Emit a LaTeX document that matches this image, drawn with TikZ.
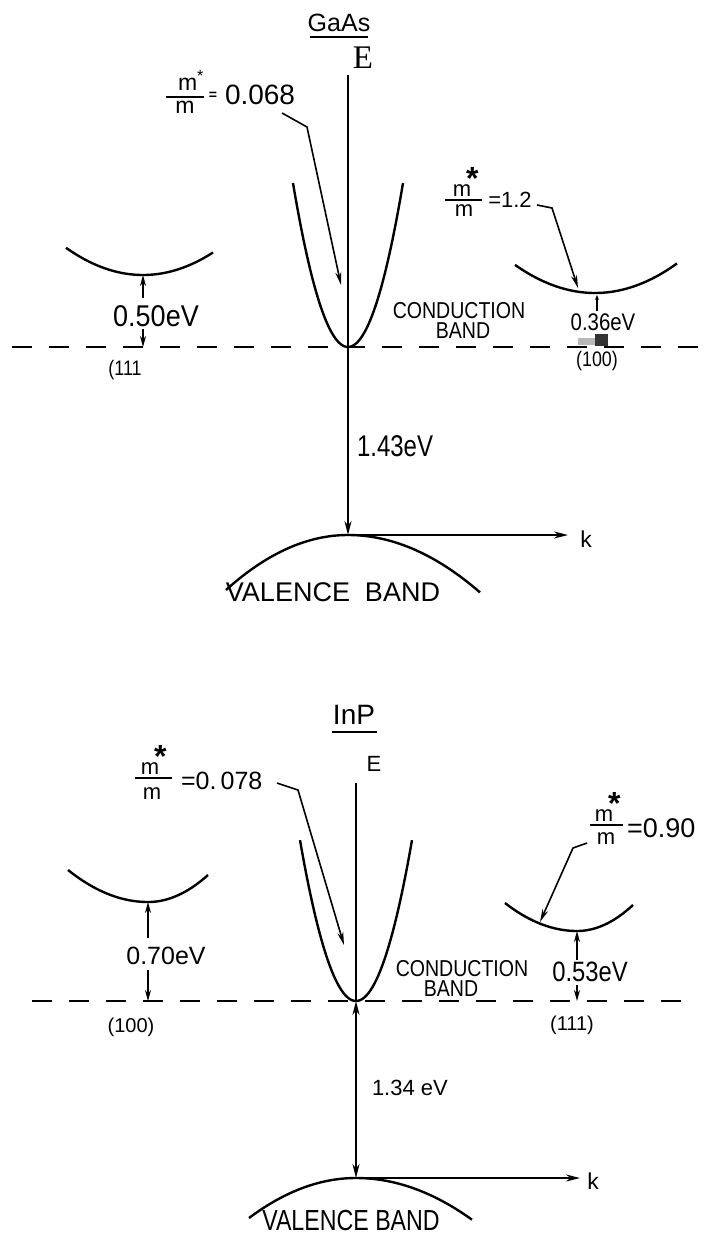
\documentclass[tikz,border=0pt]{standalone}
\usepackage{fontspec}
\setmainfont{Liberation Sans}
\newfontfamily\sA[FakeStretch=0.9]{Liberation Sans}
\newfontfamily\sB[FakeStretch=0.85]{Liberation Sans}
\newfontfamily\sC[FakeStretch=0.8]{Liberation Sans}
\newfontfamily\serE{Liberation Serif}
\usetikzlibrary{arrows.meta}
\newcommand{\myfs}[1]{\fontsize{#1}{#1}\selectfont}
\newcommand{\bigstar}{\rlap{\hspace{-5pt}\raisebox{7pt}{\bfseries\myfs{32}*}}}
\tikzset{
  txt/.style={inner sep=0pt, outer sep=0pt},
  band/.style={line width=2.4pt},
  axisline/.style={line width=2pt},
  leader/.style={line width=1.6pt, -{Stealth[length=13pt,width=6pt]}},
  gap/.style={line width=1.6pt, -{Stealth[length=11pt,width=6pt]}},
  ax/.style={line width=2pt, -{Stealth[length=14pt,width=7pt]}},
  refline/.style={line width=2.6pt, dash pattern=on 20pt off 17pt},
  fracbar/.style={line width=1.8pt},
  ul/.style={line width=2.2pt},
  cbtext/.style={txt, font=\sB\fontsize{23}{20}\selectfont, align=center}
}
\begin{document}
\begin{tikzpicture}[x=1pt,y=-1pt]
\useasboundingbox (0,0) rectangle (709,1240);

% ================= GaAs =================
\node[txt,font=\myfs{25}] (gaas) at (339,23) {GaAs};
\draw[ul] (310,37) -- (368,37);
\node[txt,font=\serE\myfs{33}] (e1) at (363,58) {E};

\coordinate (ax1top) at (348,75);
\coordinate (cmin1) at (348,347);
\coordinate (vtop1) at (348,535);
\coordinate (kend1) at (568,535);

% reference (dashed) line
\coordinate (d1l) at (12,347);
\coordinate (d1r) at (709,347);
\draw[refline] (d1l) -- (d1r);

% central conduction valley
\draw[band] plot[domain=-55:55,samples=80] ({348+\x},{347-0.0542*\x*\x});
% E axis
\draw[ax] (ax1top) -- (vtop1);
% k axis
\draw[ax] (vtop1) -- (kend1);
\node[txt,font=\myfs{23}] (k1) at (586,539) {k};
% valence band
\draw[band] plot[domain=-122:0,samples=60] ({348+\x},{535+0.0037*\x*\x});
\draw[band] plot[domain=0:132,samples=60] ({348+\x},{535+0.0033*\x*\x});
\node[txt,font=\myfs{27}] (vb1) at (333,592) {VALENCE\ \ BAND};

% gap label
\node[txt,font=\sC\myfs{30},anchor=west] (g143) at (357,446) {1.43eV};

% m*/m = 0.068
\node[txt,font=\myfs{23}] (n1) at (191,80) {m\textsuperscript{*}};
\draw[fracbar] (166,97) -- (204,97);
\node[txt,font=\myfs{23}] (d1) at (185,107) {m};
\node[txt,font=\bfseries\myfs{14}] (eq1) at (213,96) {=};
\node[txt,font=\myfs{28},anchor=west] (v068) at (225,95) {0.068};
\coordinate (l1a) at (282,113);
\coordinate (l1b) at (307,127);
\coordinate (l1c) at (341,285);
\draw[leader] (l1a) -- (l1b) -- (l1c);

% left valley (111)
\coordinate (lmin1) at (143,275);
\draw[band] plot[domain=-77:70,samples=60] ({143+\x},{275-0.0046*\x*\x});
\node[txt,font=\sA\myfs{30}] (g050) at (156,316) {0.50eV};
\draw[gap] (143,298) -- (lmin1);
\draw[gap] (143,329) -- (143,347);
\node[txt,font=\sB\myfs{21}] (o111a) at (125,370) {(111};

% right valley (100)
\coordinate (rmin1) at (595,293);
\draw[band] plot[domain=-80:82,samples=60] ({595+\x},{293-0.0044*\x*\x});
\node[txt,font=\myfs{22},anchor=base] (n2) at (462,196) {m\bigstar};
\draw[fracbar] (445,200) -- (482,200);
\node[txt,font=\myfs{22}] (d2) at (464,211) {m};
\node[txt,font=\myfs{22}] (v12) at (510,200) {=1.2};
\coordinate (l2a) at (537,205);
\coordinate (l2b) at (552,208);
\coordinate (l2c) at (578,288);
\draw[leader] (l2a) -- (l2b) -- (l2c);
\node[txt,font=\sB\myfs{24}] (g036) at (603,322) {0.36eV};
\draw[line width=1.2pt, -{Stealth[length=5pt,width=4pt]}] (597,311) -- (597,295);
\fill[gray!55] (578,338) rectangle (608,345);
\fill[gray!40!black] (595,334) rectangle (608,346);
\node[txt,font=\sB\myfs{21}] (o100a) at (597,361) {(100)};

\node[cbtext] (cb1) at (459,320) {CONDUCTION\\\hspace*{8pt}BAND};

% ================= InP =================
\node[txt,font=\myfs{28}] (inp) at (354,715) {InP};
\draw[ul] (332,732) -- (377,732);
\node[txt,font=\myfs{22}] (e2) at (374,764) {E};

\coordinate (ax2top) at (356,783);
\coordinate (cmin2) at (356,1001);
\coordinate (vtop2) at (356,1178);
\coordinate (kend2) at (580,1178);

\coordinate (d2l) at (32,1001);
\coordinate (d2r) at (690,1001);
\draw[refline] (d2l) -- (d2r);

\draw[band] plot[domain=-56:56,samples=80] ({356+\x},{1001-0.0513*\x*\x});
\draw[axisline] (ax2top) -- (cmin2);
\draw[line width=2pt, {Stealth[length=14pt,width=7pt]}-{Stealth[length=14pt,width=7pt]}] (cmin2) -- (vtop2);
\draw[ax] (vtop2) -- (kend2);
\node[txt,font=\myfs{23}] (k2) at (593,1181) {k};
\draw[band] plot[domain=-107:0,samples=60] ({356+\x},{1178+0.0035*\x*\x});
\draw[band] plot[domain=0:116,samples=60] ({356+\x},{1178+0.0031*\x*\x});
\node[txt,font=\sC\myfs{29}] (vb2) at (351,1221) {VALENCE BAND};

\node[txt,font=\myfs{22},anchor=west] (g134) at (372,1088) {1.34 eV};

% m*/m = 0.078
\node[txt,font=\myfs{22},anchor=base] (n3) at (150,774) {m\bigstar};
\draw[fracbar] (135,778) -- (172,778);
\node[txt,font=\myfs{22}] (d3) at (152,794) {m};
\node[txt,font=\myfs{25},anchor=west] (v078) at (181,781) {=0.\,078};
\coordinate (l3a) at (277,783);
\coordinate (l3b) at (298,790);
\coordinate (l3c) at (344,945);
\draw[leader] (l3a) -- (l3b) -- (l3c);

% left valley (100)
\coordinate (lmin2) at (148,902);
\draw[band] plot[domain=-80:0,samples=60] ({148+\x},{902-0.005*\x*\x});
\draw[band] plot[domain=0:60,samples=60] ({148+\x},{902-0.0075*\x*\x});
\node[txt,font=\myfs{25}] (g070) at (166,956) {0.70eV};
\draw[gap] (148,938) -- (lmin2);
\draw[gap] (148,970) -- (148,1001);
\node[txt,font=\myfs{20}] (o100b) at (131,1027) {(100)};

% right valley (111)
\coordinate (rmin2) at (577,931);
\draw[band] plot[domain=-72:0,samples=60] ({577+\x},{931-0.0054*\x*\x});
\draw[band] plot[domain=0:56,samples=60] ({577+\x},{931-0.0083*\x*\x});
\node[txt,font=\myfs{22},anchor=base] (n4) at (604,821) {m\bigstar};
\draw[fracbar] (590,825) -- (623,825);
\node[txt,font=\myfs{22}] (d4) at (606,839) {m};
\node[txt,font=\myfs{27},anchor=west] (v090) at (627,828) {=0.90};
\coordinate (l4a) at (587,843);
\coordinate (l4b) at (573,848);
\coordinate (l4c) at (540,922);
\draw[leader] (l4a) -- (l4b) -- (l4c);
\node[txt,font=\sB\myfs{28}] (g053) at (590,972) {0.53eV};
\draw[gap] (577,960) -- (rmin2);
\draw[gap] (577,985) -- (577,1001);
\node[txt,font=\myfs{20}] (o111b) at (572,1025) {(111)};

\node[cbtext] (cb2) at (462,978) {CONDUCTION\\\hspace*{-22pt}BAND};
\end{tikzpicture}
\end{document}
